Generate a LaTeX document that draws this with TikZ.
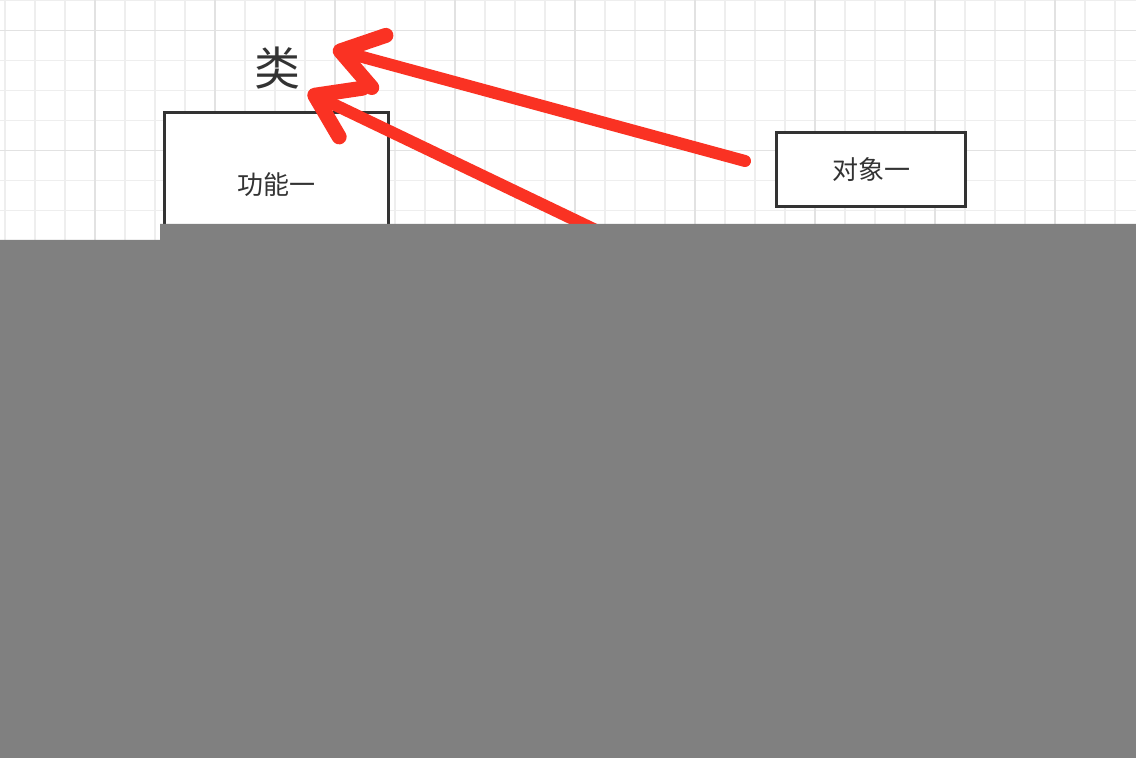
\documentclass[tikz,border=0pt]{standalone}
\usepackage{fontspec}
\newfontfamily\cjk{Noto Sans CJK SC}
\usetikzlibrary{arrows.meta}
\definecolor{gridminor}{RGB}{238,238,238}
\definecolor{gridmajor}{RGB}{226,226,226}
\definecolor{boxline}{RGB}{51,51,51}
\definecolor{markred}{RGB}{250,50,35}
\definecolor{maskgrey}{RGB}{128,128,128}
\tikzset{
  bx/.style={rectangle, draw=boxline, line width=1.5pt, fill=white, inner sep=0pt, text=boxline, font=\cjk\fontsize{13pt}{15pt}\selectfont},
  ttl/.style={inner sep=0pt, text=boxline, font=\cjk\fontsize{23pt}{26pt}\selectfont},
  redarrow/.style={draw=markred, line width=6pt, line cap=round, line join=round, -{Straight Barb[length=20pt,width=27pt,round,line width=7.5pt]}},
  gl/.style={draw=gridminor, line width=0.6pt},
  glmajor/.style={draw=gridmajor, line width=0.8pt}
}

\begin{document}
\begin{tikzpicture}[x=0.5pt,y=-0.5pt]
\useasboundingbox (0,0) rectangle (1136,758);
\fill[white] (0,0) rectangle (1136,758);

% grid
\foreach \gx in {0,...,37} \draw[gl] ({5+30*\gx},0) -- ({5+30*\gx},758);
\foreach \gy in {0,...,25} \draw[gl] (0,{0.7+30*\gy}) -- (1136,{0.7+30*\gy});
\foreach \gx in {95,215,...,1055} \draw[glmajor] (\gx,0) -- (\gx,758);
\foreach \gy in {30.7,150.7,...,750.7} \draw[glmajor] (0,\gy) -- (1136,\gy);

\node[ttl] (cls) at (277,68) {类};
\node[bx, minimum width=112pt, minimum height=72pt] (fn1) at (276.5,185) {功能一};
\node[bx, minimum width=94.5pt, minimum height=37pt] (obj1) at (871,169.5) {对象一};

%
\coordinate (tail1) at (745,161);
\coordinate (tip1) at (333,49);
\coordinate (tail2) at (700,280);
\coordinate (tip2) at (308,92);
\draw[redarrow] (tail1) -- (tip1);
\draw[redarrow] (tail2) -- (tip2);

% mask
\fill[maskgrey] (0,240) -- (160,240) -- (160,224) -- (1136,224) -- (1136,758) -- (0,758) -- cycle;
\end{tikzpicture}
\end{document}
